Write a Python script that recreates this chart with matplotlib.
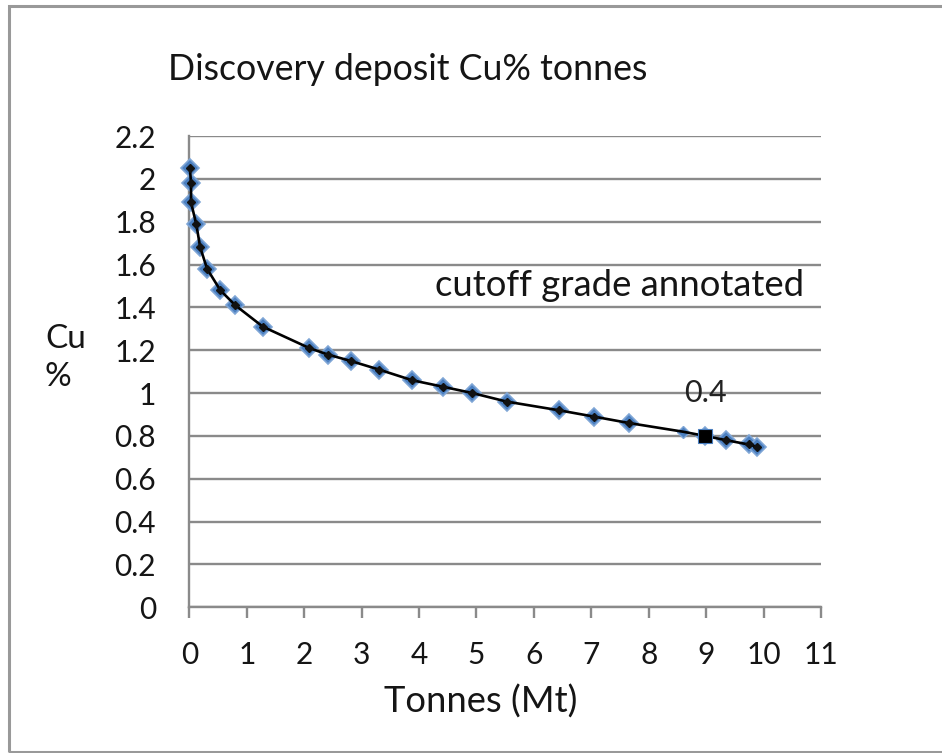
"""
Grade-tonnage curve for the Discovery deposit (Cu % vs tonnes), with the
0.4 cutoff grade point marked on the curve.
"""

import matplotlib

matplotlib.use("Agg")
import matplotlib.pyplot as plt
from matplotlib.patches import Rectangle

# ---------------------------------------------------------------------------
# Data
# ---------------------------------------------------------------------------

tonnes_mt = [0.01, 0.03, 0.03, 0.12, 0.19, 0.31, 0.54, 0.80, 1.28, 2.09,
             2.41, 2.81, 3.30, 3.88, 4.41, 4.93, 5.53, 6.43, 7.05, 7.66,
             8.59, 8.98, 9.35, 9.74, 9.88]
cu_pct = [2.05, 1.98, 1.89, 1.79, 1.68, 1.58, 1.48, 1.41, 1.31, 1.21,
          1.18, 1.15, 1.11, 1.06, 1.03, 1.00, 0.96, 0.92, 0.89, 0.86,
          0.82, 0.80, 0.78, 0.76, 0.75]
small_idx = 20        # point drawn with the smaller marker
cutoff_idx = 21       # point annotated with the cutoff grade
cutoff_label = "0.4"

x_ticks = list(range(0, 12))
y_ticks = [0, 0.2, 0.4, 0.6, 0.8, 1.0, 1.2, 1.4, 1.6, 1.8, 2.0, 2.2]

title = "Discovery deposit Cu% tonnes"
note = "cutoff grade annotated"

# ---------------------------------------------------------------------------
# Figure
# ---------------------------------------------------------------------------

W, H = 942, 753
plt.rcParams["font.family"] = ["Lato", "DejaVu Sans"]
fig = plt.figure(figsize=(W / 100, H / 100), dpi=100)


def px(x, y):
    # pixel position (from top-left) -> figure fraction
    return x / W, 1 - y / H


ax_l, ax_r, ax_t, ax_b = 189.3, 821.0, 136.0, 607.3
ax = fig.add_axes([ax_l / W, 1 - ax_b / H, (ax_r - ax_l) / W, (ax_b - ax_t) / H])

grey = "#8a8a8a"
ink = "#151515"
ax.set_xlim(0, 11)
ax.set_ylim(0, 2.2)
ax.set_xticks(x_ticks)
ax.set_xticklabels([str(t) for t in x_ticks])
ax.set_yticks(y_ticks)
ax.set_yticklabels([f"{v:g}" for v in y_ticks])
ax.yaxis.grid(True, color=grey, linewidth=1.7)
ax.set_axisbelow(True)
for side in ("top", "right"):
    ax.spines[side].set_visible(False)
for side in ("left", "bottom"):
    ax.spines[side].set_color(grey)
    ax.spines[side].set_linewidth(1.7)
ax.tick_params(axis="x", length=8, width=1.7, color=grey, pad=16,
               labelsize=21.5, labelcolor=ink)
ax.tick_params(axis="y", length=0, pad=24, labelsize=21.5, labelcolor=ink)

# blue diamond markers
main_t = [t for i, t in enumerate(tonnes_mt) if i != small_idx]
main_c = [c for i, c in enumerate(cu_pct) if i != small_idx]
ax.plot(main_t, main_c, "D", ms=9.5, color="#4a7fc0", mec="#7fa6d6", mew=1.2,
        zorder=3, clip_on=False)
ax.plot(tonnes_mt[small_idx], cu_pct[small_idx], "D", ms=6, color="#4a7fc0",
        mec="#7fa6d6", mew=1, zorder=3)

# black smoothed line with small dark markers
ax.plot(tonnes_mt, cu_pct, "-", color="black", lw=1.9, zorder=4, clip_on=False)
ax.plot(main_t, main_c, "D", ms=3.8, color="#111111", zorder=5, clip_on=False)

# cutoff point
ct, cc = tonnes_mt[cutoff_idx], cu_pct[cutoff_idx]
ax.plot(ct, cc, "s", ms=10.5, color="black", mec="#4a7fc0", mew=0.8, zorder=6)
ax.annotate(cutoff_label, xy=(ct, cc), xytext=(0, 31), textcoords="offset points",
            ha="center", va="center", fontsize=22, color="#222222")

# texts
fig.text(*px(168, 70), title, fontsize=25.7, ha="left", va="center", color=ink)
fig.text(*px(435, 285), note, fontsize=26.3, ha="left", va="center", color=ink,
         bbox=dict(facecolor="white", edgecolor="none", pad=1))
fig.text(*px(45, 358), "Cu\n%", fontsize=24, ha="left", va="center",
         linespacing=1.35, color=ink)
fig.text(*px(481, 702), "Tonnes (Mt)", fontsize=26.2, ha="center", va="center",
         color=ink)

# outer frame (right side falls outside the picture)
fig.add_artist(Rectangle(px(9, 752), 950 / W, 746 / H, transform=fig.transFigure,
                         fill=False, edgecolor="#999999", linewidth=2.2))

fig.savefig("out.png", dpi=100)
